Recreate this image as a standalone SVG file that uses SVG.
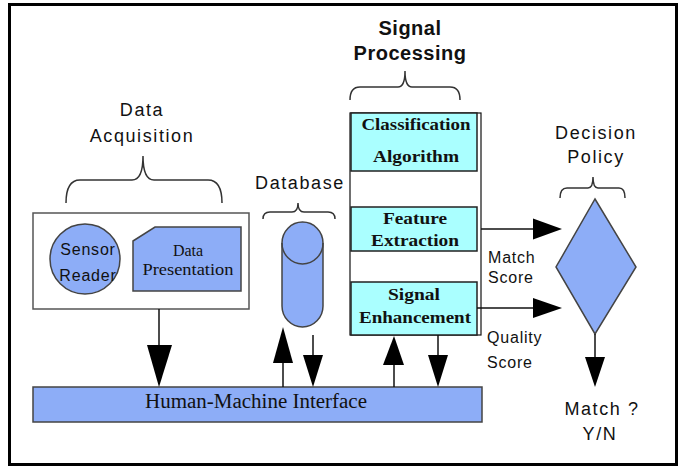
<svg xmlns="http://www.w3.org/2000/svg" width="680" height="467" viewBox="0 0 680 467">
<style>
.bg{fill:#ffffff}
.frame{fill:none;stroke:#000;stroke-width:3}
.grp{fill:#fff;stroke:#555;stroke-width:1.5}
.blue{fill:#8DADF7;stroke:#444;stroke-width:1.5}
.cyan{fill:#AAFFFF;stroke:#222;stroke-width:1.5}
.col{fill:none;stroke:#111;stroke-width:1.2}
.brace{fill:none;stroke:#333;stroke-width:1.5}
.stem{stroke:#111;stroke-width:1.5;fill:none}
.head{fill:#000}
.lbl{font-family:"Liberation Sans",Arial,sans-serif;font-size:18px;fill:#111;letter-spacing:1.6px}
.bold{font-family:"Liberation Sans",Arial,sans-serif;font-size:20px;font-weight:bold;fill:#111;letter-spacing:0.5px}
.small{font-family:"Liberation Sans",Arial,sans-serif;font-size:16px;fill:#111;letter-spacing:0.8px}
.srf{font-family:"Liberation Serif","Times New Roman",serif;font-size:16px;fill:#111}
.hmi{font-family:"Liberation Serif","Times New Roman",serif;font-size:20px;fill:#111}
.srfb{font-family:"Liberation Serif","Times New Roman",serif;font-size:17px;font-weight:bold;fill:#111}
</style>
<rect class="bg" x="0" y="0" width="680" height="467"/>
<rect class="frame" x="9.5" y="4.5" width="667" height="460"/>

<g id="labels">
<text class="lbl" x="142" y="116" text-anchor="middle">Data</text>
<text class="lbl" x="142" y="142" text-anchor="middle">Acquisition</text>
<text class="lbl" x="300" y="189" text-anchor="middle">Database</text>
<text class="bold" x="410" y="35" text-anchor="middle">Signal</text>
<text class="bold" x="410" y="60" text-anchor="middle">Processing</text>
<text class="lbl" x="596" y="139" text-anchor="middle">Decision</text>
<text class="lbl" x="596" y="163" text-anchor="middle">Policy</text>
<path class="brace" d="M66,203 Q66,180 80,180 L132,180 Q143,180 143,156 Q143,180 154,180 L208,180 Q222,180 222,203"/>
<path class="brace" d="M263,219 Q263,212 270,212 L292,212 Q298,212 298,203 Q298,212 304,212 L328,212 Q335,212 335,219"/>
<path class="brace" d="M350,100 Q350,87 360,87 L398,87 Q405,87 405,71 Q405,87 412,87 L450,87 Q460,87 460,100"/>
<path class="brace" d="M560,198 Q560,188 567,188 L588,188 Q593,188 593,177 Q593,188 598,188 L619,188 Q625,188 625,198"/>
</g>

<g id="data-acquisition">
<rect class="grp" x="33" y="213" width="216" height="96"/>
</g>

<g id="sensor-reader">
<circle class="blue" cx="85" cy="259" r="35"/>
<text class="small" x="88" y="255" text-anchor="middle">Sensor</text>
<text class="small" x="88" y="281" text-anchor="middle">Reader</text>
</g>

<g id="data-presentation">
<polygon class="blue" points="133,241 155,227 241,227 241,291 133,291"/>
<text class="srf" x="188" y="256" text-anchor="middle">Data</text>
<text class="srf" x="188" y="275" text-anchor="middle" textLength="91" lengthAdjust="spacingAndGlyphs">Presentation</text>
</g>

<g id="database">
<path class="blue" d="M282,243 A20.5,21 0 0 1 323,243 L323,306 A20.5,21 0 0 1 282,306 Z"/>
<path class="blue" style="fill:none" d="M282,243 A20.5,21 0 0 0 323,243"/>
</g>

<g id="signal-processing">
<rect class="col" x="350" y="113" width="131" height="222"/>
</g>

<g id="classification-algorithm">
<rect class="cyan" x="351" y="113" width="126" height="58"/>
<text class="srfb" x="416" y="130" text-anchor="middle" textLength="109" lengthAdjust="spacingAndGlyphs">Classification</text>
<text class="srfb" x="416" y="162" text-anchor="middle" textLength="86" lengthAdjust="spacingAndGlyphs">Algorithm</text>
</g>

<g id="feature-extraction">
<rect class="cyan" x="351" y="207" width="126" height="44"/>
<text class="srfb" x="415" y="224" text-anchor="middle" textLength="64" lengthAdjust="spacingAndGlyphs">Feature</text>
<text class="srfb" x="415" y="246" text-anchor="middle" textLength="88" lengthAdjust="spacingAndGlyphs">Extraction</text>
</g>

<g id="signal-enhancement">
<rect class="cyan" x="351" y="282" width="126" height="53"/>
<text class="srfb" x="414" y="300" text-anchor="middle" textLength="52" lengthAdjust="spacingAndGlyphs">Signal</text>
<text class="srfb" x="415" y="323" text-anchor="middle" textLength="112" lengthAdjust="spacingAndGlyphs">Enhancement</text>
</g>

<g id="decision-policy">
<polygon class="blue" points="595,199 636,267 595,334 556,267"/>
</g>

<g id="hmi">
<rect class="blue" x="33" y="387" width="449" height="35"/>
<text class="hmi" x="256" y="408" text-anchor="middle" textLength="222" lengthAdjust="spacingAndGlyphs">Human-Machine Interface</text>
</g>

<g id="result-labels">
<text class="small" x="488" y="263">Match</text>
<text class="small" x="488" y="283">Score</text>
<text class="small" x="487" y="343">Quality</text>
<text class="small" x="487" y="368">Score</text>
<text class="lbl" x="602" y="415" text-anchor="middle">Match ?</text>
<text class="lbl" x="600" y="440" text-anchor="middle">Y/N</text>
</g>

<g id="connectors">
<line class="stem" x1="159" y1="309" x2="159" y2="346"/>
<polygon class="head" points="147,345 172,345 159,387"/>
<line class="stem" x1="283" y1="362" x2="283" y2="387"/>
<polygon class="head" points="273,363 293,363 283,327"/>
<line class="stem" x1="313" y1="335" x2="313" y2="356"/>
<polygon class="head" points="303,355 323,355 313,387"/>
<line class="stem" x1="394" y1="364" x2="394" y2="387"/>
<polygon class="head" points="383,365 404,365 394,336"/>
<line class="stem" x1="438" y1="335" x2="438" y2="356"/>
<polygon class="head" points="428,355 448,355 438,387"/>
<line class="stem" x1="481" y1="229" x2="534" y2="229"/>
<polygon class="head" points="533,218.5 533,239.5 562,229"/>
<line class="stem" x1="477" y1="308" x2="534" y2="308"/>
<polygon class="head" points="533,298 533,318 562,308"/>
<line class="stem" x1="595" y1="334" x2="595" y2="358"/>
<polygon class="head" points="585,357 605,357 595,387"/>
</g>
</svg>
